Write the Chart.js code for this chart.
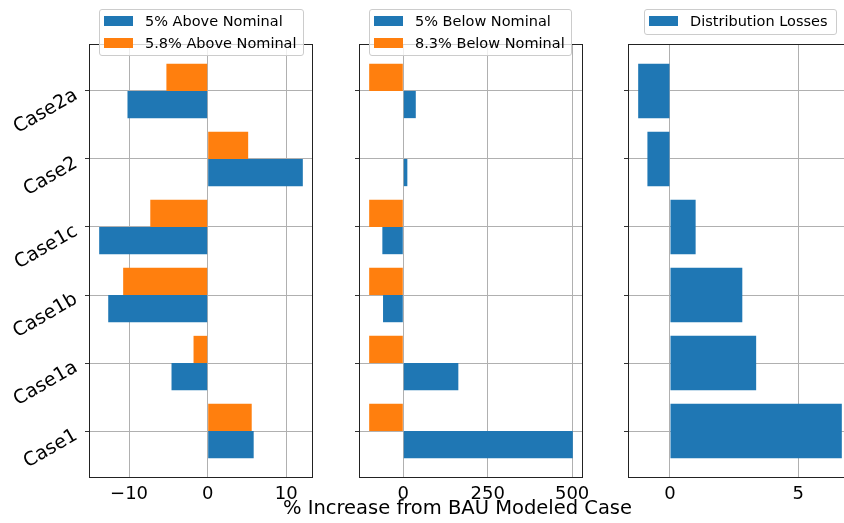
<!DOCTYPE html>
<html>
<head>
<meta charset="utf-8">
<script src="https://cdn.jsdelivr.net/npm/chart.js@4.4.0/dist/chart.umd.min.js"></script>
<style>
  body { margin: 0; width: 844px; height: 523px; overflow: hidden; background: #fff; position: relative; font-family: "DejaVu Sans", sans-serif; }
  canvas { position: absolute; top: 0; }
  .legend { position: absolute; background: rgba(255,255,255,0.8); border: 1px solid #ccc; border-radius: 3px; box-sizing: border-box; font-size: 14.5px; color: #000; z-index: 2; }
  .row { position: absolute; left: 4px; height: 20px; display: flex; align-items: center; white-space: nowrap; }
  .patch { width: 29px; height: 10px; margin-right: 12px; }
  #xtitle { position: absolute; top: 498px; left: 0; width: 915px; text-align: center; font-size: 19.5px; line-height: 1; color: #000; z-index: 2; }
</style>
</head>
<body>
<canvas id="c1" width="320" height="523" style="left:0"></canvas>
<canvas id="c2" width="290" height="523" style="left:320px"></canvas>
<canvas id="c3" width="250" height="523" style="left:610px"></canvas>
<div id="xtitle">% Increase from BAU Modeled Case</div>
<script>
// categories bottom -> top
const cases = ["Case1", "Case1a", "Case1b", "Case1c", "Case2", "Case2a"];

// panel 1
const above5 = [5.85, -4.6, -12.65, -13.8, 12.1, -10.2];
const above58 = [5.6, -1.8, -10.75, -7.3, 5.15, -5.25];
// panel 2
const below5 = [502, 163, -60, -62, 12, 37];
const below83 = [-101, -101, -101, -101, 0, -101];
// panel 3
const distLosses = [6.7, 3.36, 2.82, 1.0, -0.88, -1.24];

const ticks1 = [-10, 0, 10];
const ticks2 = [0, 250, 500];
const ticks3 = [0, 5];

const BLUE = "#1f77b4", ORANGE = "#ff7f0e";
const FONT = "DejaVu Sans";

// matplotlib-like 5% margins
function padRange(vals) {
  const lo = Math.min(0, ...vals), hi = Math.max(0, ...vals);
  const m = (hi - lo) * 0.05;
  return [lo - m, hi + m];
}

const frame = {
  id: "frame",
  afterDraw(c) {
    const a = c.chartArea, ctx = c.ctx;
    ctx.save();
    ctx.strokeStyle = "#222";
    ctx.lineWidth = 1;
    ctx.strokeRect(a.left + 0.5, a.top + 0.5, a.right - a.left - 1, a.bottom - a.top - 1);
    ctx.restore();
  }
};

function makeChart(id, series, xTicks, yWidth, padRight, showLabels) {
  const [xmin, xmax] = padRange(series.flatMap(s => s.values));
  const ymin = -0.4 - (cases.length - 0.2) * 0.05;
  const ymax = cases.length - 1 + 0.4 + (cases.length - 0.2) * 0.05;

  new Chart(document.getElementById(id), {
    type: "bar",
    data: {
      datasets: series.map(s => ({
        label: s.label,
        data: s.values.map((v, i) => ({ x: v, y: i })),
        backgroundColor: s.color,
        borderWidth: 0,
        categoryPercentage: 0.8,
        barPercentage: 1
      }))
    },
    options: {
      indexAxis: "y",
      responsive: false,
      animation: false,
      layout: { padding: { top: 44, right: padRight, left: 0, bottom: 0 } },
      plugins: { legend: { display: false }, tooltip: { enabled: false } },
      scales: {
        x: {
          type: "linear", min: xmin, max: xmax, z: 1, offset: false,
          afterBuildTicks: s => { s.ticks = xTicks.map(v => ({ value: v })); },
          afterFit: s => { s.height = 45; },
          grid: { color: "#b0b0b0", lineWidth: 1, drawTicks: false, offset: false },
          border: { display: false },
          ticks: {
            color: "#000", padding: 6, font: { family: FONT, size: 18 },
            callback: v => String(v).replace("-", "\u2212")
          }
        },
        y: {
          type: "linear", min: ymin, max: ymax, z: 1, offset: false,
          afterBuildTicks: s => { s.ticks = cases.map((_, i) => ({ value: i })); },
          afterFit: s => { s.width = yWidth; },
          grid: { color: "#b0b0b0", lineWidth: 1, tickLength: 4, tickColor: "#333", offset: false },
          border: { display: false },
          ticks: {
            display: showLabels, autoSkip: false,
            minRotation: 30, maxRotation: 30, labelOffset: 3,
            color: "#000", padding: 9, font: { family: FONT, size: 19 },
            callback: v => cases[v]
          }
        }
      }
    },
    plugins: [frame]
  });
}

function makeLegend(left, top, width, series) {
  const box = document.createElement("div");
  box.className = "legend";
  box.style.left = left + "px";
  box.style.top = top + "px";
  box.style.width = width + "px";
  box.style.height = (4 + series.length * 21.5) + "px";
  series.forEach((s, k) => {
    const row = document.createElement("div");
    row.className = "row";
    row.style.top = (1 + k * 21.5) + "px";
    row.innerHTML = '<div class="patch" style="background:' + s.color + '"></div><span>' + s.label + "</span>";
    box.appendChild(row);
  });
  document.body.appendChild(box);
}

const p1 = [
  { label: "5.8% Above Nominal", values: above58, color: ORANGE },
  { label: "5% Above Nominal", values: above5, color: BLUE }
];
const p2 = [
  { label: "8.3% Below Nominal", values: below83, color: ORANGE },
  { label: "5% Below Nominal", values: below5, color: BLUE }
];
const p3 = [{ label: "Distribution Losses", values: distLosses, color: BLUE }];

makeChart("c1", p1, ticks1, 89, 7, true);
makeChart("c2", p2, ticks2, 39, 27, false);
makeChart("c3", p3, ticks3, 18, 8, false);

makeLegend(99, 9, 205, p1.slice().reverse());
makeLegend(369, 9, 203, p2.slice().reverse());
makeLegend(644, 9, 193, p3);
</script>
</body>
</html>
